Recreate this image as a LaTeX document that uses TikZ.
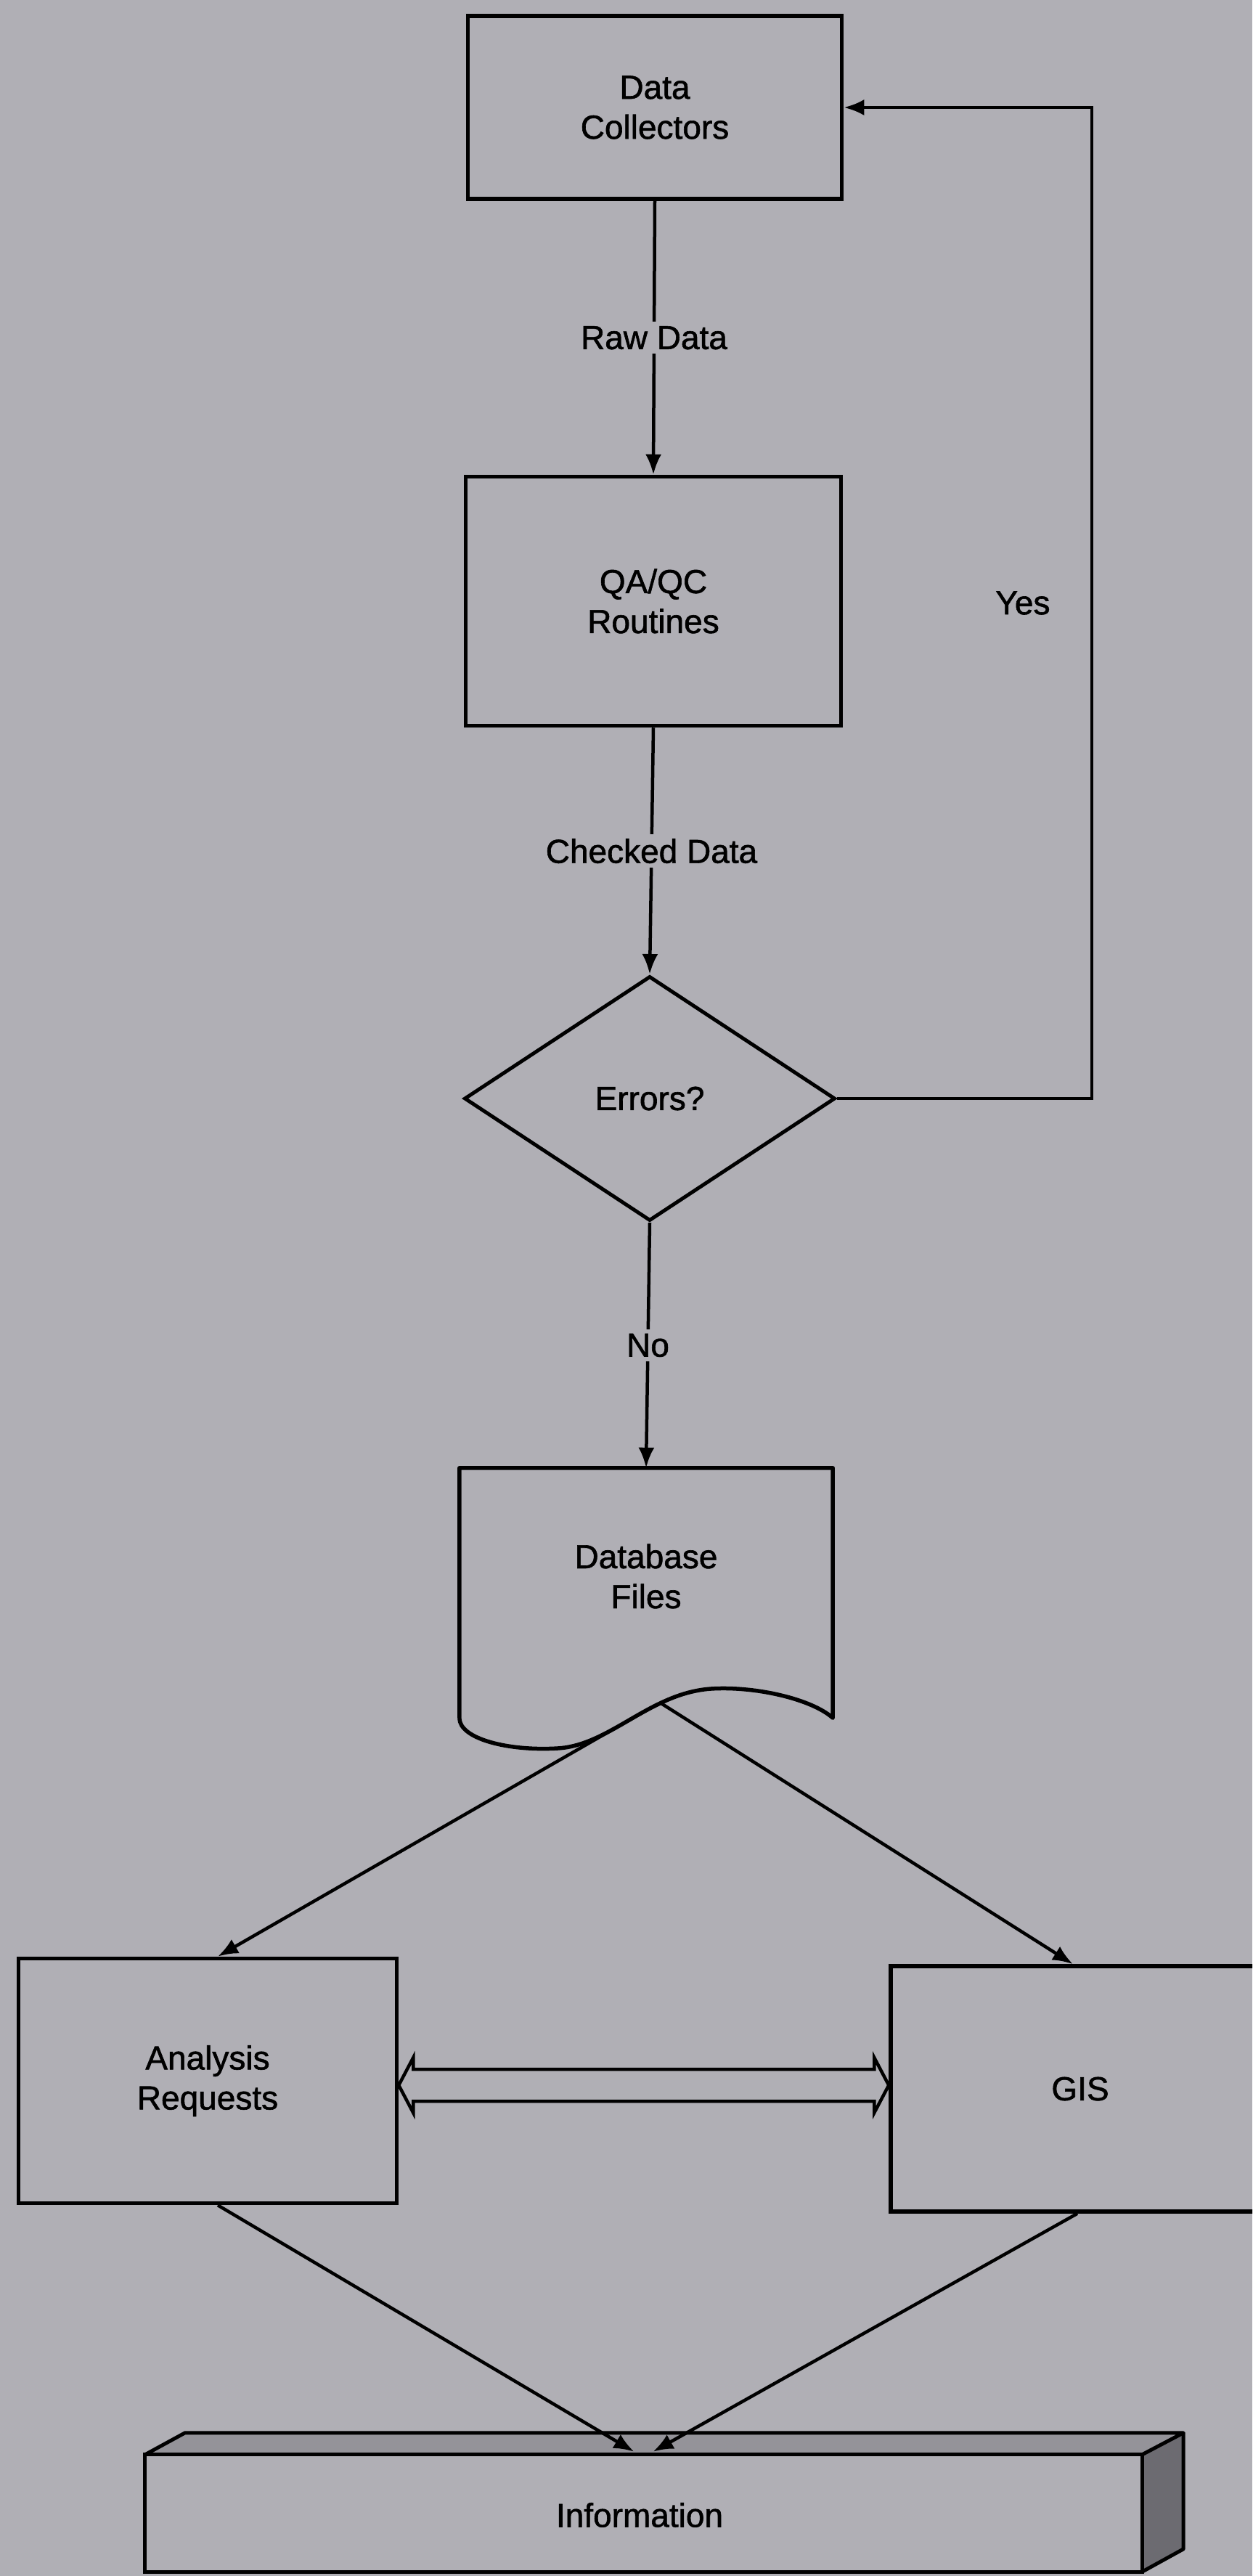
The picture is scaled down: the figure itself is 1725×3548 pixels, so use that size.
\documentclass[tikz,border=0pt]{standalone}
\usepackage{fontspec}
\setmainfont[FakeBold=1.3]{Liberation Sans}
\usetikzlibrary{arrows.meta,shapes.geometric,calc}
\definecolor{paper}{RGB}{176,175,181}
\definecolor{topshade}{RGB}{148,147,153}
\definecolor{sideshade}{RGB}{108,107,113}
\begin{document}
\begin{tikzpicture}[x=1pt,y=-1pt,
  every node/.style={font=\fontsize{46}{55}\selectfont, text=black},
  box/.style={draw=black, line width=5.5pt, rectangle, inner sep=0pt, align=center},
  conn/.style={draw=black, line width=4.5pt, -{Latex[length=28pt,width=22pt]}},
  lbl/.style={fill=paper, inner sep=6pt}]
\fill[paper] (0,0) rectangle (1725,3548);
\useasboundingbox (0,0) rectangle (1725,3548);
\clip (0,0) rectangle (1725,3548);

% nodes
\node[box, minimum width=515pt, minimum height=252pt] (dc) at (902,148) {Data\\Collectors};
\node[box, minimum width=517pt, minimum height=343pt] (qa) at (900,828) {QA/QC\\Routines};
\node[draw=black, line width=5pt, diamond, inner sep=0pt, minimum width=511pt, minimum height=337pt] (err) at (895,1513) {Errors?};
\node[align=center, inner sep=0pt, minimum width=514pt, minimum height=298pt] (db) at (890,2171) {Database\\Files};
\node[box, minimum width=521pt, minimum height=337pt] (ar) at (286,2866) {Analysis\\Requests};
\node[box, minimum width=522pt, minimum height=338pt] (gis) at (1488,2877) {GIS};
\node[inner sep=0pt, minimum width=1373pt, minimum height=161pt] (info) at (886.5,3461.5) {};

% document shape of Database Files
\draw[black, line width=5.5pt, line join=round]
  ($(db.south west)+(0,46)$) -- (db.north west) -- (db.north east) -- ($(db.south east)+(0,46)$)
  .. controls (1118,2340) and (1040,2322) .. (979,2326)
  .. controls (895,2332) and (840,2404) .. coordinate[pos=0.3] (dbR) coordinate[pos=0.62] (dbL) (768,2408)
  .. controls (700,2412) and (633,2395) .. ($(db.south west)+(0,46)$);

% 3D information box
\fill[topshade] (info.north west) -- ++(55,-30) -- ($(info.north east)+(57,-30)$) -- (info.north east) -- cycle;
\fill[sideshade] (info.north east) -- ++(57,-30) -- ++(0,160) -- (info.south east) -- cycle;
\draw[black, line width=5pt, line join=round] (info.north west) -- ++(55,-30) -- ($(info.north east)+(57,-30)$) -- (info.north east);
\draw[black, line width=5pt, line join=round] ($(info.north east)+(57,-30)$) -- ++(0,160) -- (info.south east);
\draw[black, line width=5pt] (info.north west) rectangle (info.south east);
\node[inner sep=0pt] (infot) at (881,3464) {Information};

% connectors
\draw[conn] (dc.south) -- node[lbl, midway] {Raw Data} (qa.north);
\draw[conn] (qa.south) -- node[lbl, midway] {Checked Data} (err.north);
\draw[conn] (err.south) -- node[lbl, midway] {No} (db.north);
\coordinate (yx) at (1504,0);
\draw[conn] (err.east) -- (err.east -| yx) -- node[midway, left=52pt] {Yes} (dc.east -| yx) -- (dc.east);
\draw[conn] (dbL) -- ($(ar.north)+(14,0)$);
\draw[conn] (dbR) -- ($(gis.north)+(-10,0)$);
\draw[conn] ($(ar.south)+(14,0)$) -- ($(info.north)+(-13,-4)$);
\draw[conn] ($(gis.south)+(-4,0)$) -- ($(info.north)+(13,-4)$);

% hollow double arrow between Analysis Requests and GIS
\coordinate (yy) at (0,2872);
\coordinate (dl) at (ar.east |- yy);
\coordinate (dr) at (gis.west |- yy);
\draw[black, line width=4.5pt, line join=miter]
  (dl) -- ($(dl)+(20,-38)$) -- ($(dl)+(20,-22)$) -- ($(dr)+(-20,-22)$) -- ($(dr)+(-20,-38)$) -- (dr)
  -- ($(dr)+(-20,38)$) -- ($(dr)+(-20,22)$) -- ($(dl)+(20,22)$) -- ($(dl)+(20,38)$) -- cycle;
\end{tikzpicture}
\end{document}
